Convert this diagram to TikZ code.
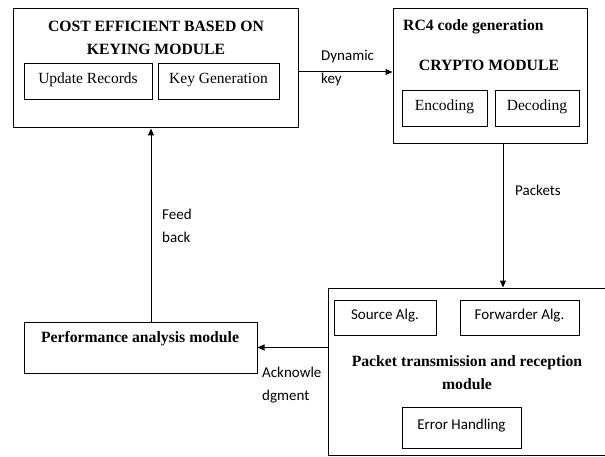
\documentclass[tikz,border=0pt]{standalone}
\usepackage{fontspec}
\setmainfont{Liberation Serif}
\newfontfamily\lblfont{Carlito}
\usetikzlibrary{arrows.meta,calc}
\begin{document}
\begin{tikzpicture}[x=1pt,y=-1pt,
  box/.style={draw,line width=1pt,inner sep=0pt,font=\fontsize{15.5}{24}\selectfont},
  subbox/.style={draw,line width=1pt,inner sep=0pt,text height=11pt,text depth=7pt,font=\fontsize{15.5}{20}\selectfont},
  sanssub/.style={draw,line width=1pt,inner sep=0pt,text height=11pt,text depth=7pt,font=\lblfont\fontsize{15}{20}\selectfont},
  title/.style={inner sep=0pt,align=center,font=\bfseries\fontsize{15.7}{23}\selectfont},
  lbl/.style={inner sep=0pt,align=left,font=\lblfont\fontsize{15}{23}\selectfont},
  arr/.style={line width=1pt,-{Triangle[length=7pt,width=6pt]}}]
\useasboundingbox (0,0) rectangle (605,457);
% keying module
\node[box,minimum width=285,minimum height=119] (k) at (155.5,68.5) {};
\node[title] (kt) at (156,38) {COST EFFICIENT BASED ON\\KEYING MODULE};
\node[subbox,minimum width=128,minimum height=36] (ur) at (88,82) {Update Records};
\node[subbox,minimum width=121,minimum height=36] (kg) at (218.5,82) {Key Generation};
% crypto module
\node[box,minimum width=194,minimum height=135] (c) at (490,76.5) {};
\node[title,anchor=west] (rc) at (403,27) {RC4 code generation};
\node[title] (cm) at (489,65) {CRYPTO MODULE};
\node[subbox,minimum width=85,minimum height=36] (en) at (444.5,109) {Encoding};
\node[subbox,minimum width=84,minimum height=36] (de) at (537,109) {Decoding};
% packet module
\node[box,minimum width=280,minimum height=167] (p) at (468,371.5) {};
\node[sanssub,minimum width=102,minimum height=35] (sa) at (385,317.5) {Source Alg.};
\node[sanssub,minimum width=119,minimum height=35] (fa) at (519.5,317.5) {Forwarder Alg.};
\node[title] (pt) at (467,373) {Packet transmission and reception\\module};
\node[sanssub,minimum width=119,minimum height=41] (eh) at (461.5,427.5) {Error Handling};
% performance
\node[box,minimum width=233,minimum height=51] (f) at (140.5,347.5) {};
\node[title] (ft) at (140,339) {Performance analysis module};
% connectors
\draw[arr] ([yshift=-3.5pt]k.east) -- ([yshift=-3.5pt]k.east -| c.west);
\draw[arr] ([xshift=13pt]c.south) -- ([xshift=13pt]c.south |- p.north);
\draw[arr] (p.west |- f.east) -- (f.east);
\draw[arr] ([xshift=10.5pt]f.north) -- ([xshift=10.5pt]f.north |- k.south);
% labels
\node[lbl,anchor=west] (ldk) at (321,68.5) {Dynamic\\key};
\node[lbl,anchor=west] (lpk) at (515,190) {Packets};
\node[lbl,anchor=west] (lfb) at (162,225.5) {Feed\\back};
\node[lbl,anchor=west] (lak) at (262,385.5) {Acknowle\\dgment};
\end{tikzpicture}
\end{document}
